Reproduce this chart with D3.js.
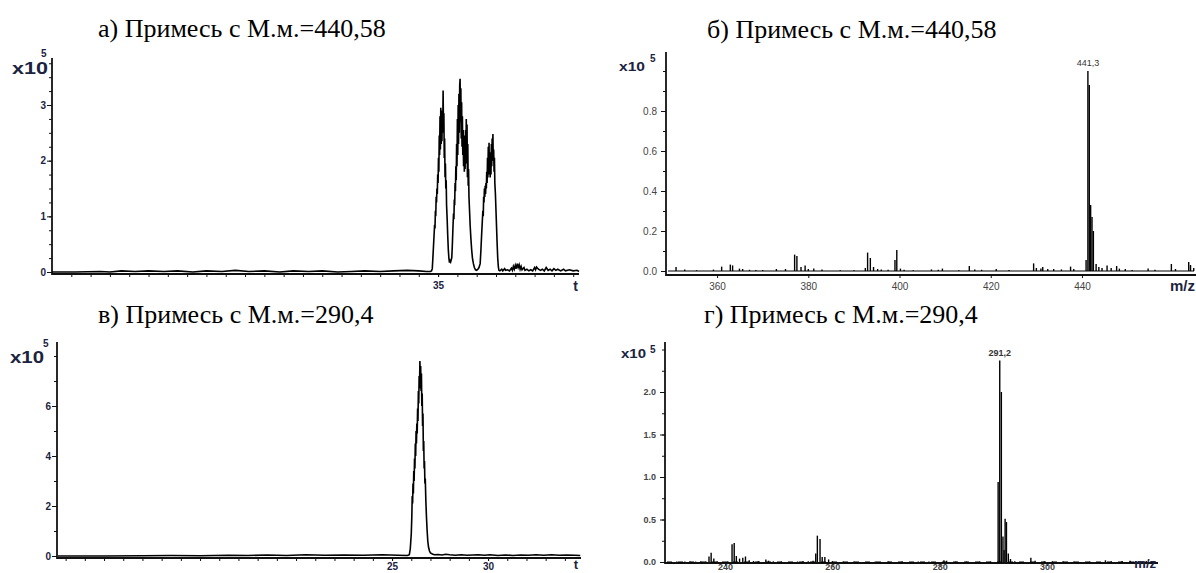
<!DOCTYPE html>
<html lang="ru">
<head>
<meta charset="UTF-8">
<script src="https://cdn.jsdelivr.net/npm/d3@7"></script>
<title>Примеси</title>
<style>
  body { margin: 0; background: #fff; }
  svg { display: block; }
  .ttl { font-family: "Liberation Serif", "Times New Roman", serif; font-size: 26px; fill: #000; }
  .ax line { stroke: #111; }
  .frame { stroke: #111; stroke-width: 1.8; }
  .sig { fill: none; stroke: #000; stroke-width: 1.6; stroke-linejoin: miter; }
  .stick { stroke: #000; stroke-width: 1.4; }
  .lbl { font-family: "Liberation Sans", Arial, sans-serif; font-weight: bold; fill: #1c2340; }
</style>
</head>
<body>
<svg id="c" width="1196" height="573"></svg>
<script>
// ---- подписи ----
var titles = ["а) Примесь с М.м.=440,58", "б) Примесь с М.м.=440,58",
              "в) Примесь с М.м.=290,4", "г) Примесь с М.м.=290,4"];
var peakLabels = ["441,3", "291,2"];

// ---- деления осей ----
var ticksA_y = [0, 1, 2, 3], ticksA_x = [35];
var ticksB_y = [0.0, 0.2, 0.4, 0.6, 0.8], ticksB_x = [360, 380, 400, 420, 440];
var ticksV_y = [0, 2, 4, 6], ticksV_x = [25, 30];
var ticksG_y = [0.0, 0.5, 1.0, 1.5, 2.0], ticksG_x = [240, 260, 280, 300];

// ---- а) хроматограмма, t / x10^5 ----
var ticA = [
  [15,0],[16.2,0],[17.5,0.01],[18,0],[18.6,0.02],[19.3,0.01],[20,0.02],[20.8,0.01],[21.5,0.02],
  [22.3,0],[23,0.02],[23.8,0.01],[24.5,0.03],[25.2,0.01],[26,0.02],[26.8,0],[27.5,0.02],[28.3,0.01],
  [29,0.02],[29.8,0],[30.5,0.01],[31.2,0.02],[32,0.01],[32.7,0.02],[33.4,0.03],[34,0.02],[34.4,0.01],
  [34.60,0.01],[34.66,0.02],[34.70,0.06],[34.73,0.25],[34.76,0.45],[34.79,0.65],[34.82,0.85],[34.84,0.78],
  [34.86,1.10],[34.88,1.00],[34.90,1.35],[34.92,1.25],[34.94,1.50],[34.96,1.40],[34.98,1.75],[35.00,1.60],
  [35.02,2.05],[35.04,1.80],[35.06,2.45],[35.08,2.10],[35.10,2.80],[35.12,2.20],[35.14,2.95],[35.16,2.30],
  [35.18,2.70],[35.20,2.35],[35.22,2.90],[35.24,2.50],[35.26,3.26],[35.28,2.60],[35.30,2.85],[35.32,2.05],
  [35.34,2.40],[35.36,1.70],[35.38,1.95],[35.40,1.50],[35.42,1.65],[35.44,1.20],[35.47,0.95],[35.50,0.65],
  [35.53,0.40],[35.56,0.25],[35.59,0.17],[35.62,0.20],[35.65,0.18],[35.68,0.22],
  [35.71,0.26],[35.74,0.50],[35.77,0.80],[35.80,1.05],[35.82,0.95],[35.84,1.30],[35.86,1.20],[35.88,1.60],
  [35.90,1.45],[35.92,1.90],[35.94,1.65],[35.96,2.30],[35.98,1.90],[36.00,2.75],[36.02,2.10],[36.04,3.00],
  [36.06,2.30],[36.08,3.20],[36.10,2.50],[36.12,3.35],[36.14,3.47],[36.16,2.70],[36.18,3.30],[36.20,2.40],
  [36.22,3.05],[36.24,2.25],[36.26,2.80],[36.28,2.10],[36.30,2.55],[36.32,1.90],[36.34,2.45],[36.36,1.80],
  [36.38,2.40],[36.40,1.85],[36.42,2.55],[36.44,1.95],[36.46,2.75],[36.48,2.00],[36.50,2.65],[36.52,1.70],
  [36.54,2.30],[36.56,1.55],[36.58,1.85],[36.60,1.35],[36.63,1.10],[36.66,0.85],[36.70,0.60],[36.74,0.40],
  [36.78,0.25],[36.83,0.15],[36.88,0.08],[36.94,0.04],[37.00,0.03],[37.06,0.05],[37.12,0.08],[37.18,0.15],
  [37.22,0.40],[37.26,0.70],[37.29,0.90],[37.32,1.10],[37.34,1.00],[37.36,1.35],[37.38,1.25],[37.40,1.50],
  [37.42,1.35],[37.44,1.55],[37.46,1.40],[37.48,1.60],[37.50,1.50],[37.52,1.80],[37.54,1.60],[37.56,2.05],
  [37.58,1.70],[37.60,2.25],[37.62,1.80],[37.64,2.32],[37.66,1.75],[37.68,2.10],[37.70,1.70],[37.72,2.15],
  [37.74,1.75],[37.76,2.30],[37.78,1.90],[37.80,2.40],[37.82,2.00],[37.84,2.48],[37.86,2.00],[37.88,2.20],
  [37.90,1.80],[37.92,2.05],[37.94,1.60],[37.97,1.40],[38.00,1.10],[38.03,0.80],[38.06,0.50],[38.09,0.25],
  [38.12,0.10],[38.15,0.03],
  [38.20,0.02],[38.30,0.05],[38.35,0.02],[38.45,0.06],[38.50,0.03],[38.60,0.04],[38.70,0.02],[38.80,0.07],
  [38.85,0.03],[38.90,0.10],[38.95,0.05],[39.00,0.12],[39.05,0.06],[39.10,0.15],[39.15,0.08],[39.20,0.13],
  [39.25,0.05],[39.30,0.10],[39.35,0.04],[39.45,0.08],[39.50,0.03],[39.60,0.05],[39.70,0.02],[39.80,0.04],
  [39.90,0.02],[40.00,0.08],[40.05,0.04],[40.10,0.09],[40.20,0.05],[40.30,0.03],[40.40,0.05],[40.50,0.02],
  [40.60,0.08],[40.70,0.03],[40.80,0.05],[40.90,0.02],[41.00,0.06],[41.10,0.03],[41.20,0.05],[41.35,0.02],
  [41.50,0.05],[41.60,0.02],[41.80,0.04],[42.00,0.02],[42.20,0.03],[42.30,0.01]
];

// ---- б) масс-спектр, m/z / x10^5 ----
var specB = [
  [351.0,0.02],[352.9,0.008],[355.5,0.004],[359.2,0.007],[361.0,0.022],[362.9,0.032],[363.4,0.028],
  [364.9,0.012],[365.6,0.01],[367.1,0.006],[368.5,0.005],[370,0.005],[373,0.01],[375,0.01],
  [377.0,0.082],[377.5,0.075],[378.4,0.02],[379.3,0.027],[380,0.01],[381.2,0.012],[383,0.007],
  [387,0.004],[390,0.004],[392.5,0.015],[393.0,0.092],[393.6,0.065],[394.3,0.02],[395.2,0.01],
  [396,0.008],[397.5,0.006],[399.0,0.055],[399.4,0.105],[400.2,0.012],[401,0.006],[403,0.004],
  [407,0.008],[408.5,0.006],[409.4,0.012],[413,0.004],[415.3,0.025],[416.5,0.008],[418,0.006],
  [421.2,0.01],[424,0.005],[429.4,0.038],[430,0.015],[431,0.012],[431.4,0.02],[432.5,0.01],
  [433.8,0.01],[435.5,0.008],[437.5,0.022],[438.2,0.01],[440.9,0.055],[441.3,1.0],[441.6,0.93],
  [441.9,0.33],[442.2,0.27],[442.5,0.2],[443.1,0.035],[443.7,0.02],[444.4,0.015],[445.5,0.028],
  [446.4,0.015],[447.6,0.025],[448.2,0.012],[449.5,0.01],[451,0.005],[454.5,0.012],[456,0.006],
  [459.6,0.035],[460.5,0.01],[463.4,0.045],[463.8,0.03],[464.5,0.015]
];

// ---- в) хроматограмма, t / x10^5 ----
var ticV = [
  [7.6,0],[10,0],[12,0.01],[13.5,0.02],[15,0.01],[16.5,0.03],[17.5,0.02],[18.5,0.04],[19.5,0.02],
  [20.5,0.05],[21.5,0.03],[22.5,0.04],[23.5,0.03],[24.5,0.05],[25.3,0.03],[25.8,0.02],
  [25.90,0.05],[25.95,0.30],[26.00,0.88],[26.03,1.60],[26.05,2.40],[26.07,2.10],[26.09,2.90],[26.11,2.50],
  [26.13,3.40],[26.15,3.00],[26.17,3.90],[26.19,3.50],[26.21,4.50],[26.23,4.00],[26.25,5.00],[26.27,4.50],
  [26.29,5.30],[26.31,4.90],[26.33,5.90],[26.35,5.40],[26.37,6.60],[26.39,6.10],[26.41,7.20],[26.43,6.70],
  [26.45,7.80],[26.47,7.10],[26.49,7.60],[26.51,6.60],[26.53,7.30],[26.55,6.00],[26.57,6.50],[26.59,5.20],
  [26.61,5.70],[26.63,4.20],[26.65,4.60],[26.67,3.50],[26.69,3.80],[26.71,2.90],[26.73,3.10],[26.76,2.20],
  [26.79,1.60],[26.82,1.10],[26.86,0.60],[26.90,0.35],[26.95,0.20],[27.00,0.12],[27.10,0.08],[27.20,0.05],
  [27.4,0.06],[27.6,0.04],[27.8,0.07],[28,0.05],[28.3,0.03],[28.6,0.05],[28.9,0.03],[29.2,0.04],[29.5,0.05],
  [29.8,0.03],[30.1,0.05],[30.5,0.02],[30.9,0.04],[31.3,0.02],[31.7,0.04],[32.1,0.03],[32.5,0.05],
  [32.9,0.03],[33.3,0.05],[33.7,0.03],[34.1,0.04],[34.5,0.03],[34.8,0.02]
];

// ---- г) масс-спектр, m/z / x10^5 ----
var specG = [
  [231,0.005],[232.5,0.005],[233.5,0.006],[234.5,0.005],[235.5,0.006],[236.4,0.01],[237.0,0.065],
  [237.4,0.11],[237.9,0.04],[238.5,0.012],[240.5,0.008],[241.3,0.21],[241.7,0.225],[242.1,0.07],
  [242.7,0.04],[243.3,0.05],[243.8,0.065],[244.5,0.02],[245.3,0.012],[246.2,0.01],[247.6,0.03],
  [248.1,0.015],[249,0.008],[250.5,0.006],[253.5,0.006],[254.5,0.008],[255.5,0.008],[256.4,0.015],
  [256.9,0.1],[257.2,0.31],[257.7,0.27],[258.1,0.06],[258.6,0.06],[259.3,0.03],[260,0.01],[262,0.006],
  [264,0.005],[268,0.005],[270.5,0.005],[273,0.005],[276,0.006],[278,0.005],[280.8,0.02],[281.3,0.015],
  [283,0.005],[285,0.005],[287.5,0.005],[289.5,0.006],[290.9,0.94],[291.2,2.37],[291.5,2.0],[291.8,0.3],
  [292.0,0.14],[292.2,0.51],[292.45,0.47],[292.8,0.1],[293.2,0.035],[294,0.01],[297.0,0.05],[297.8,0.015],
  [299.5,0.01],[301,0.008],[303,0.008],[305,0.006],[308,0.006],[310.9,0.02],[312,0.008],[314,0.012],
  [315.5,0.015],[316.5,0.012],[317.5,0.01],[318.5,0.012],[319.5,0.006]
];

var svg = d3.select("#c");

function panel(o) {
  var x = d3.scaleLinear().domain(o.xDom).range([o.x0, o.x1]);
  var y = d3.scaleLinear().domain(o.yRef).range(o.yRefPx);
  var g = svg.append("g");

  // мелкие деления
  g.append("g").attr("class", "ax").attr("transform", "translate(" + o.x0 + ",0)")
    .call(d3.axisLeft(y).tickValues(o.yMinor).tickSize(3).tickFormat(""))
    .call(function (s) { s.select(".domain").remove(); });
  if (o.xMinor) {
    g.append("g").attr("class", "ax").attr("transform", "translate(0," + o.axisY + ")")
      .call(d3.axisBottom(x).tickValues(o.xMinor).tickSize(3).tickFormat(""))
      .call(function (s) { s.select(".domain").remove(); });
  }
  // подписанные деления
  var ya = g.append("g").attr("class", "ax").attr("transform", "translate(" + o.x0 + ",0)")
    .call(d3.axisLeft(y).tickValues(o.yTicks).tickSize(5).tickPadding(o.yPad).tickFormat(o.fmt))
    .call(function (s) { s.select(".domain").remove(); });
  var xa = g.append("g").attr("class", "ax").attr("transform", "translate(0," + o.axisY + ")")
    .call(d3.axisBottom(x).tickValues(o.xTicks).tickSize(3).tickPadding(o.xPad).tickFormat(d3.format("d")))
    .call(function (s) { s.select(".domain").remove(); });
  [ya, xa].forEach(function (a) {
    a.attr("font-family", "'Liberation Sans', Arial, sans-serif").attr("font-size", o.tickFont);
    a.selectAll("text").attr("fill", o.tickColor).attr("font-weight", o.tickWeight);
  });

  // рамка осей
  g.append("line").attr("class", "frame")
    .attr("x1", o.x0).attr("x2", o.x0).attr("y1", o.axisY + 0.9).attr("y2", o.yTop);
  g.append("line").attr("class", "frame")
    .attr("x1", o.x0).attr("x2", o.x1).attr("y1", o.axisY).attr("y2", o.axisY);

  // данные
  if (o.line) {
    g.append("path").attr("class", "sig")
      .attr("d", d3.line().x(function (d) { return x(d[0]); }).y(function (d) { return y(d[1]); })(o.line));
  }
  if (o.sticks) {
    g.append("line").attr("stroke", "#000").attr("stroke-width", 1.1)
      .attr("stroke-dasharray", o.baseDash || null)
      .attr("x1", o.x0 + 2).attr("x2", o.x1 - 2).attr("y1", y(0)).attr("y2", y(0));
    g.selectAll(".stick").data(o.sticks).enter().append("line").attr("class", "stick")
      .attr("x1", function (d) { return x(d[0]); }).attr("x2", function (d) { return x(d[0]); })
      .attr("y1", y(0)).attr("y2", function (d) { return y(d[1]); });
  }
  if (o.peakLabel) {
    var top = o.sticks.reduce(function (a, b) { return b[1] > a[1] ? b : a; });
    g.append("text").attr("x", x(top[0])).attr("y", y(top[1]) - 5)
      .attr("text-anchor", "middle").attr("font-family", "'Liberation Sans', Arial, sans-serif")
      .attr("font-size", 9).attr("font-weight", o.tickWeight).attr("fill", "#333").text(o.peakLabel);
  }

  // множитель и ось X
  g.append("text").attr("class", "lbl").attr("x", o.mult[0]).attr("y", o.mult[1])
    .attr("font-size", o.mult[2]).attr("textLength", o.mult[3]).attr("lengthAdjust", "spacingAndGlyphs")
    .text("x10");
  g.append("text").attr("class", "lbl").attr("x", o.sup[0]).attr("y", o.sup[1])
    .attr("font-size", o.sup[2]).text("5");
  g.append("text").attr("class", "lbl").attr("x", o.xName[0]).attr("y", o.xName[1])
    .attr("text-anchor", "end").attr("font-size", o.xName[2]).text(o.xName[3]);

  svg.append("text").attr("class", "ttl").attr("x", o.title[0]).attr("y", o.title[1]).text(o.title[2]);
}

panel({
  xDom: [15, 42.3], x0: 52, x1: 579, axisY: 274, yTop: 58,
  yRef: [0, 3], yRefPx: [272, 105],
  yTicks: ticksA_y, yMinor: d3.range(0, 3.9, 0.25), xTicks: ticksA_x, xMinor: d3.range(16, 43, 1),
  fmt: d3.format("d"), yPad: 1, xPad: 5, tickFont: 10, tickColor: "#1c2340", tickWeight: "bold",
  line: ticA, mult: [12, 74, 17, 36], sup: [41, 57, 10], xName: [578, 291, 14, "t"],
  title: [98, 37, titles[0]]
});
panel({
  xDom: [348.8, 465], x0: 666, x1: 1196, axisY: 275, yTop: 52,
  yRef: [0, 1], yRefPx: [271, 71],
  yTicks: ticksB_y, yMinor: d3.range(0, 1.05, 0.1), xTicks: ticksB_x,
  fmt: d3.format(".1f"), yPad: 4, xPad: 5, tickFont: 10, tickColor: "#444", tickWeight: "normal",
  sticks: specB, peakLabel: peakLabels[0],
  mult: [619, 71, 12, 26], sup: [650, 62, 10], xName: [1195, 291, 15, "m/z"],
  title: [707, 38, titles[1]]
});
panel({
  xDom: [7.55, 34.84], x0: 57, x1: 581, axisY: 558, yTop: 342,
  yRef: [0, 2], yRefPx: [556, 506],
  yTicks: ticksV_y, yMinor: d3.range(0, 8.6, 1), xTicks: ticksV_x, xMinor: d3.range(8, 35, 1),
  fmt: d3.format("d"), yPad: 1, xPad: 2, tickFont: 10, tickColor: "#1c2340", tickWeight: "bold",
  line: ticV, mult: [10, 363, 17, 34], sup: [43, 347, 10], xName: [578, 569, 13, "t"],
  title: [98, 323, titles[2]]
});
panel({
  xDom: [228.8, 320.7], x0: 665, x1: 1158, axisY: 563, yTop: 342,
  yRef: [0, 1], yRefPx: [562, 477],
  yTicks: ticksG_y, yMinor: d3.range(0, 2.6, 0.25), xTicks: ticksG_x,
  fmt: d3.format(".1f"), yPad: 4, xPad: -2, tickFont: 9, tickColor: "#444", tickWeight: "bold",
  sticks: specG, peakLabel: peakLabels[1], baseDash: "5,6",
  mult: [621, 358, 12, 25], sup: [650, 353, 10], xName: [1156, 568, 13, "m/z"],
  title: [704, 323, titles[3]]
});
</script>
</body>
</html>
